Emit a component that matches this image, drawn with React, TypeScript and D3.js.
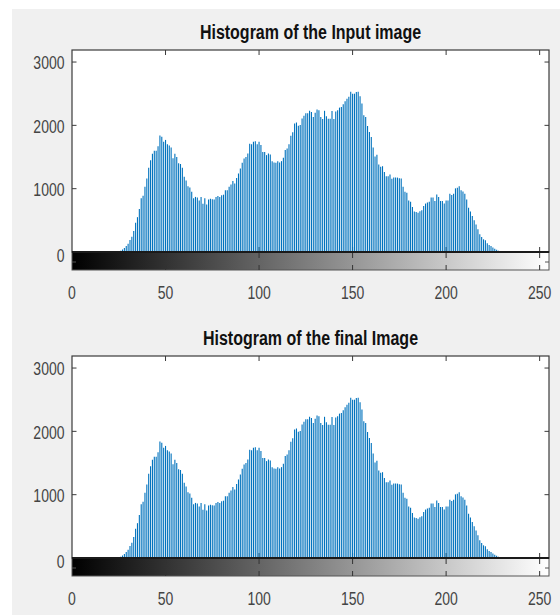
import React, { useEffect, useRef } from "react";
import * as d3 from "d3";

// intensity levels 0..255 and counts
const levels = d3.range(256);

const inputCounts = [
  0, 0, 0, 0, 0, 0, 0, 0, 0, 0, 0, 0, 0, 0, 0, 0, 0, 0, 0, 0, 0, 0, 0, 0, 0, 0,
  20, 40, 65, 95, 130, 190, 240, 330, 460, 550,
  680, 850, 890, 1030, 1160, 1330, 1450, 1550, 1600, 1600,
  1670, 1840, 1820, 1740, 1770, 1700, 1680, 1650, 1480, 1550,
  1500, 1400, 1390, 1330, 1190, 1130, 1040, 1020, 950, 850,
  870, 860, 815, 870, 760, 850, 750, 830, 840, 835,
  830, 870, 885, 870, 895, 905, 975, 975, 1030, 1065,
  1120, 1080, 1170, 1240, 1320, 1410, 1475, 1500, 1555, 1710,
  1700, 1740, 1750, 1700, 1740, 1690, 1580, 1580, 1530, 1555,
  1540, 1435, 1415, 1410, 1435, 1415, 1435, 1490, 1610, 1635,
  1700, 1835, 1890, 2030, 2045, 1995, 2005, 2110, 2150, 2190,
  2190, 2230, 2210, 2130, 2200, 2250, 2240, 2130, 2100, 2230,
  2145, 2105, 2105, 2225, 2100, 2220, 2240, 2280, 2290, 2335,
  2380, 2420, 2450, 2530, 2500, 2500, 2525, 2530, 2460, 2345,
  2160, 2130, 1990, 1895, 1815, 1650, 1510, 1535, 1380, 1345,
  1355, 1265, 1195, 1195, 1225, 1155, 1175, 1175, 1175, 1165,
  1160, 1030, 950, 935, 815, 795, 710, 640, 630, 620,
  645, 660, 725, 765, 780, 795, 860, 860, 805, 910,
  870, 805, 805, 765, 815, 815, 920, 900, 920, 1005,
  1015, 1040, 975, 955, 920, 830, 700, 640, 570, 500,
  435, 360, 280, 235, 200, 185, 140, 110, 95, 70,
  50, 35, 20, 0, 0, 0, 0, 0, 0, 0,
  0, 0, 0, 0, 0, 0, 0, 0, 0, 0,
  0, 0, 0, 0, 0, 0, 0, 0, 0, 0,
];

// the final image histogram looks the same as the input one
const finalCounts = inputCounts;

const xTicks = [0, 50, 100, 150, 200, 250];
const yTicks = [0, 1000, 2000, 3000];
const titles = ["Histogram of the Input image", "Histogram of the final Image"];

const width = 560,
  height = 615,
  left = 72,
  right = 549,
  plotTop = 50,
  base = 252,
  barBottom = 270,
  yMax = 3190,
  font = "'Liberation Sans', Arial, Helvetica, sans-serif",
  stretch = 1.35;

function drawPanel(svg: any, counts: number[], title: string, offset: number) {
  const g = svg.append("g").attr("transform", `translate(0,${offset})`);
  const x = d3.scaleLinear().domain([0, 255]).range([left, right]);
  const y = d3.scaleLinear().domain([0, yMax]).range([base, plotTop]);
  const axisColor = "#3a3a3a";

  g.append("rect")
    .attr("x", left).attr("y", plotTop)
    .attr("width", right - left).attr("height", base - plotTop)
    .attr("fill", "#fff");

  // tick marks (under the data, like MATLAB)
  g.selectAll(".ytl").data(yTicks.slice(1)).join("line")
    .attr("x1", left).attr("x2", left + 4.5)
    .attr("y1", (d) => y(d)).attr("y2", (d) => y(d))
    .attr("stroke", axisColor);
  g.selectAll(".ytr").data(yTicks.slice(1)).join("line")
    .attr("x1", right).attr("x2", right - 4.5)
    .attr("y1", (d) => y(d)).attr("y2", (d) => y(d))
    .attr("stroke", axisColor);
  g.selectAll(".xtt").data(xTicks.slice(1)).join("line")
    .attr("x1", (d) => x(d)).attr("x2", (d) => x(d))
    .attr("y1", plotTop).attr("y2", plotTop + 5)
    .attr("stroke", axisColor);
  g.selectAll(".xtb").data(xTicks.slice(1)).join("line")
    .attr("x1", (d) => x(d)).attr("x2", (d) => x(d))
    .attr("y1", base).attr("y2", base - 5)
    .attr("stroke", axisColor);

  // stems
  g.append("g").selectAll("line")
    .data(levels.filter((l) => counts[l] > 0))
    .join("line")
    .attr("x1", (d) => x(d)).attr("x2", (d) => x(d))
    .attr("y1", base).attr("y2", (d) => y(counts[d]))
    .attr("stroke", "#0072BD")
    .attr("stroke-width", 1.1);

  // axes box
  g.append("rect")
    .attr("x", left).attr("y", plotTop)
    .attr("width", right - left).attr("height", base - plotTop)
    .attr("fill", "none").attr("stroke", axisColor).attr("stroke-width", 1.2);

  // gray colour bar
  g.append("rect")
    .attr("x", left).attr("y", base)
    .attr("width", right - left).attr("height", barBottom - base)
    .attr("fill", "url(#grayRamp)")
    .attr("stroke", "#555").attr("stroke-width", 1);
  g.append("line")
    .attr("x1", left).attr("x2", right).attr("y1", base).attr("y2", base)
    .attr("stroke", "#1a1a1a").attr("stroke-width", 2);
  g.selectAll(".cbt").data(xTicks.slice(1)).join("line")
    .attr("x1", (d) => x(d)).attr("x2", (d) => x(d))
    .attr("y1", base + 1).attr("y2", base + 6)
    .attr("stroke", "#333");
  g.selectAll(".cbb").data(xTicks.slice(1)).join("line")
    .attr("x1", (d) => x(d)).attr("x2", (d) => x(d))
    .attr("y1", barBottom).attr("y2", barBottom - 5)
    .attr("stroke", "#333");
  const mid = (base + barBottom) / 2 + 1;
  g.append("line").attr("x1", left).attr("x2", left + 4).attr("y1", mid).attr("y2", mid).attr("stroke", "#555");
  g.append("line").attr("x1", right).attr("x2", right - 4).attr("y1", mid).attr("y2", mid).attr("stroke", "#555");

  // tick labels
  g.selectAll(".ylab").data(yTicks).join("text")
    .attr("transform", (d) => `translate(64.5,${y(d) + (d === 0 ? 4 : 1)}) scale(1,${stretch})`)
    .attr("text-anchor", "end")
    .attr("dominant-baseline", "central")
    .style("font-family", font).style("font-size", "14px")
    .attr("fill", "#444")
    .text((d) => d);
  g.selectAll(".xlab").data(xTicks).join("text")
    .attr("transform", (d) => `translate(${x(d)},293) scale(1,${stretch})`)
    .attr("text-anchor", "middle")
    .attr("dominant-baseline", "central")
    .style("font-family", font).style("font-size", "14px")
    .attr("fill", "#444")
    .text((d) => d);

  g.append("text")
    .attr("transform", `translate(${(left + right) / 2},31.5) scale(1,1.3)`)
    .attr("text-anchor", "middle")
    .attr("dominant-baseline", "central")
    .style("font-family", font).style("font-size", "16px").style("font-weight", "bold")
    .attr("fill", "#111")
    .text(title);
}

export default function App() {
  const ref = useRef<SVGSVGElement>(null);

  useEffect(() => {
    const svg = d3.select(ref.current);
    svg.selectAll("*").remove();

    const defs = svg.append("defs");
    const grad = defs.append("linearGradient").attr("id", "grayRamp").attr("x1", "0").attr("x2", "1").attr("y1", "0").attr("y2", "0");
    grad.append("stop").attr("offset", "0").attr("stop-color", "#000");
    grad.append("stop").attr("offset", "1").attr("stop-color", "#fff");

    svg.append("rect").attr("width", width).attr("height", height).attr("fill", "#fff");
    svg.append("rect").attr("x", 12).attr("y", 9).attr("width", width - 12).attr("height", height - 9).attr("fill", "#f0f0f0");

    drawPanel(svg, inputCounts, titles[0], 0);
    drawPanel(svg, finalCounts, titles[1], 306);
  }, []);

  return (
    <svg
      ref={ref}
      width={width}
      height={height}
      style={{ position: "absolute", left: 0, top: 0, display: "block" }}
    />
  );
}
